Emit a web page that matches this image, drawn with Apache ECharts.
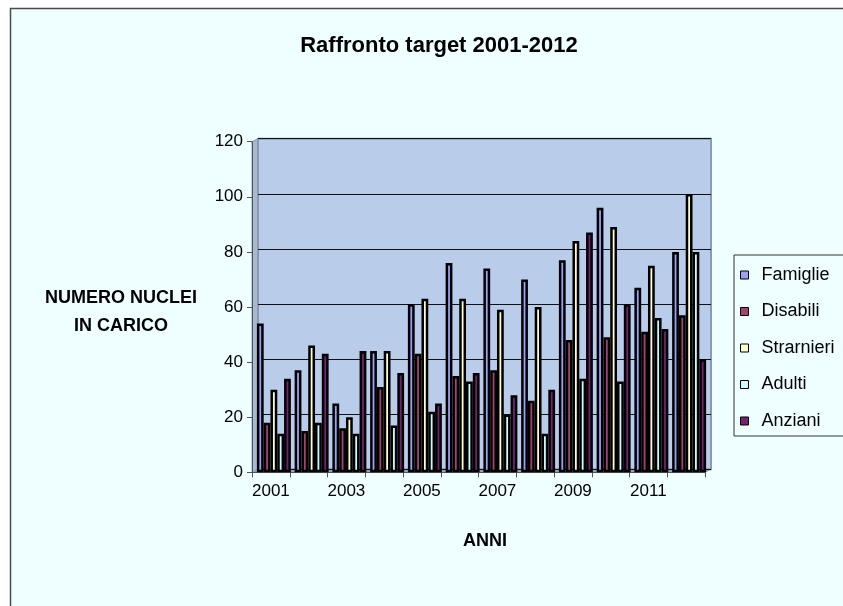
<!DOCTYPE html>
<html>
<head>
<meta charset="utf-8">
<script src="https://cdn.jsdelivr.net/npm/echarts@6/dist/echarts.min.js"></script>
<style>
  html, body { margin: 0; padding: 0; background: #ffffff; }
  #chart { width: 843px; height: 606px; }
</style>
</head>
<body>
<div id="chart"></div>
<script>
// Years on the category axis
const anni = ['2001', '2002', '2003', '2004', '2005', '2006', '2007', '2008', '2009', '2010', '2011', '2012'];

// Households taken in charge, per target group
const famiglie   = [54, 37, 25, 44, 61, 76, 74, 70, 77, 96, 67, 80];
const disabili   = [18, 15, 16, 31, 43, 35, 37, 26, 48, 49, 51, 57];
const strarnieri = [30, 46, 20, 44, 63, 63, 59, 60, 84, 89, 75, 101];
const adulti     = [14, 18, 14, 17, 22, 33, 21, 14, 34, 33, 56, 80];
const anziani    = [34, 43, 44, 36, 25, 36, 28, 30, 87, 61, 52, 41];

// Value axis ticks
const yTicks = [0, 20, 40, 60, 80, 100, 120];

const seriesDefs = [
  { name: 'Famiglie',   data: famiglie,   color: '#9aa2f5' },
  { name: 'Disabili',   data: disabili,   color: '#a3446f' },
  { name: 'Strarnieri', data: strarnieri, color: '#fffdd0' },
  { name: 'Adulti',     data: adulti,     color: '#ccfcfc' },
  { name: 'Anziani',    data: anziani,    color: '#73246f' }
];

const FONT = '"Liberation Sans", Arial, sans-serif';
const yMin = yTicks[0];
const yMax = yTicks[yTicks.length - 1];
const yStep = yTicks[1] - yTicks[0];

// Plot geometry: front axes, back wall (pushed back for depth), and bars
const plotW = 453, plotH = 330.6;
const depthX = 6, depthY = 3;
const front = { left: 252, top: 141.7, width: plotW, height: plotH };
const wall  = { left: front.left + depthX, top: front.top - depthY, width: plotW, height: plotH };
const bars  = { left: front.left + depthX / 2, top: front.top, width: plotW, height: plotH };
const fBottom = front.top + plotH;
const fRight = front.left + plotW;

const chart = echarts.init(document.getElementById('chart'), null, { renderer: 'canvas' });

chart.setOption({
  backgroundColor: '#ffffff',
  animation: false,
  textStyle: { fontFamily: FONT },
  graphic: [
    {
      type: 'rect',
      z: -100,
      shape: { x: 10.5, y: 8.5, width: 900, height: 700 },
      style: { fill: '#effefe', stroke: '#4a4a4a', lineWidth: 1.5 }
    },
    {
      // side wall between the value axis and the back wall
      type: 'polygon',
      z: -50,
      shape: { points: [
        [front.left, front.top], [wall.left, wall.top],
        [wall.left, wall.top + plotH], [front.left, fBottom]
      ] },
      style: { fill: '#a7b8d3', stroke: '#8c9ab0', lineWidth: 1 }
    },
    {
      // floor under the columns
      type: 'polygon',
      z: -50,
      shape: { points: [
        [front.left, fBottom], [fRight, fBottom],
        [fRight + depthX, fBottom - depthY], [wall.left, wall.top + plotH]
      ] },
      style: { fill: '#9aa6ba', stroke: '#8c9ab0', lineWidth: 1 }
    }
  ],
  title: [
    {
      text: 'Raffronto target 2001-2012',
      left: 434, top: 30, textAlign: 'center',
      textStyle: { fontFamily: FONT, fontSize: 22, fontWeight: 'bold', color: '#000' }
    },
    {
      text: 'NUMERO NUCLEI\nIN CARICO',
      left: 116, top: 279, textAlign: 'center',
      textStyle: { fontFamily: FONT, fontSize: 18, fontWeight: 'bold', color: '#000', lineHeight: 28 }
    },
    {
      text: 'ANNI',
      left: 480, top: 527, textAlign: 'center',
      textStyle: { fontFamily: FONT, fontSize: 18, fontWeight: 'bold', color: '#000' }
    }
  ],
  legend: {
    orient: 'vertical',
    left: 734, top: 255,
    padding: [11, 30, 6, 6],
    itemWidth: 8, itemHeight: 8,
    itemGap: 18.5,
    icon: 'rect',
    backgroundColor: '#effefe',
    borderColor: '#333',
    borderWidth: 1,
    itemStyle: { borderColor: '#000', borderWidth: 1 },
    textStyle: { fontFamily: FONT, fontSize: 18, color: '#000', padding: [0, 0, 0, 8] },
    data: seriesDefs.map(s => s.name)
  },
  grid: [
    Object.assign({ show: true, backgroundColor: '#b9cce9', borderColor: '#8c9ab0', borderWidth: 2 }, wall),
    Object.assign({ show: false }, front),
    Object.assign({ show: false }, bars)
  ],
  xAxis: [
    { gridIndex: 0, type: 'category', data: anni, show: false },
    {
      gridIndex: 1, type: 'category', data: anni, boundaryGap: true,
      axisLine: { show: true, lineStyle: { color: '#555', width: 1 } },
      axisTick: { show: true, interval: 0, length: 5, lineStyle: { color: '#555' } },
      axisLabel: { interval: 1, margin: 11, fontFamily: FONT, fontSize: 17, color: '#000' },
      splitLine: { show: false }
    },
    { gridIndex: 2, type: 'category', data: anni, show: false }
  ],
  yAxis: [
    {
      gridIndex: 0, type: 'value', min: yMin, max: yMax, interval: yStep,
      axisLine: { show: false }, axisTick: { show: false }, axisLabel: { show: false },
      splitLine: { show: true, lineStyle: { color: '#111', width: 1 } }
    },
    {
      gridIndex: 1, type: 'value', min: yMin, max: yMax, interval: yStep,
      axisLine: { show: true, lineStyle: { color: '#555', width: 1 } },
      axisTick: { show: true, length: 5, lineStyle: { color: '#555' } },
      axisLabel: { margin: 9, fontFamily: FONT, fontSize: 17, color: '#000' },
      splitLine: { show: false }
    },
    { gridIndex: 2, type: 'value', min: yMin, max: yMax, interval: yStep, show: false, splitLine: { show: false } }
  ],
  series: seriesDefs.map(s => ({
    name: s.name,
    type: 'bar',
    xAxisIndex: 2,
    yAxisIndex: 2,
    data: s.data,
    barGap: '0%',
    barCategoryGap: '10%',
    itemStyle: { color: s.color, borderColor: '#000', borderWidth: 2.5 }
  }))
});
</script>
</body>
</html>
